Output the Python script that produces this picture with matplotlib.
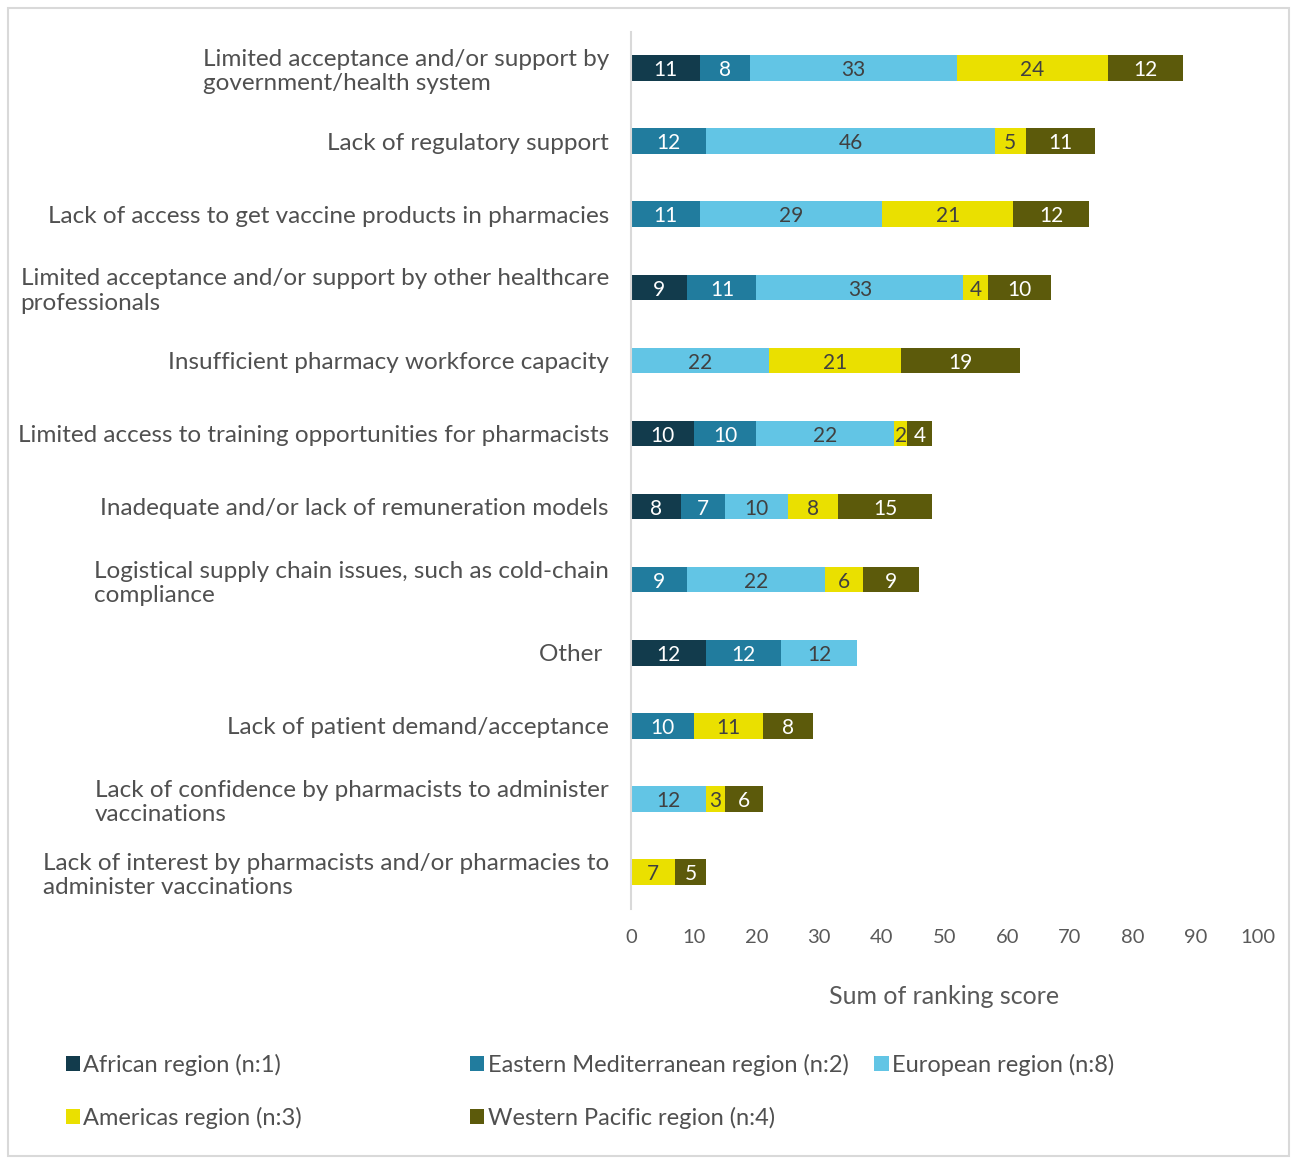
import numpy as np
import matplotlib
matplotlib.use('Agg')
import matplotlib.pyplot as plt
from matplotlib.patches import Rectangle

categories = [
    'Limited acceptance and/or support by\ngovernment/health system',
    'Lack of regulatory support',
    'Lack of access to get vaccine products in pharmacies',
    'Limited acceptance and/or support by other healthcare\nprofessionals',
    'Insufficient pharmacy workforce capacity',
    'Limited access to training opportunities for pharmacists',
    'Inadequate and/or lack of remuneration models',
    'Logistical supply chain issues, such as cold-chain\ncompliance',
    'Other ',
    'Lack of patient demand/acceptance',
    'Lack of confidence by pharmacists to administer\nvaccinations',
    'Lack of interest by pharmacists and/or pharmacies to\nadminister vaccinations',
]
african = [11, 0, 0, 9, 0, 10, 8, 0, 12, 0, 0, 0]
eastern_med = [8, 12, 11, 11, 0, 10, 7, 9, 12, 10, 0, 0]
european = [33, 46, 29, 33, 22, 22, 10, 22, 12, 0, 12, 0]
americas = [24, 5, 21, 4, 21, 2, 8, 6, 0, 11, 3, 7]
western_pac = [12, 11, 12, 10, 19, 4, 15, 9, 0, 8, 6, 5]

series = [
    ('African region (n:1)', african, '#123B4C', 'white'),
    ('Eastern Mediterranean region (n:2)', eastern_med, '#217C9E', 'white'),
    ('European region (n:8)', european, '#62C5E5', '#404040'),
    ('Americas region (n:3)', americas, '#EAE000', '#404040'),
    ('Western Pacific region (n:4)', western_pac, '#5C5A0B', 'white'),
]

plt.rcParams['font.family'] = ['Lato', 'DejaVu Sans']
txt = '#505050'

fig = plt.figure(figsize=(12.92, 11.59), dpi=100, facecolor='white')
ax = fig.add_axes([0.4884, 0.2161, 0.4853, 0.7567])

y = np.arange(len(categories))
left = np.zeros(len(categories))
handles = {}
for name, vals, col, tcol in series:
    vals = np.array(vals, dtype=float)
    bars = ax.barh(y, vals, left=left, height=0.35, color=col, label=name)
    handles[name] = bars
    for yi, (l, v) in enumerate(zip(left, vals)):
        if v > 0:
            ax.text(l + v / 2, yi + 0.03, f'{int(v)}', ha='center', va='center',
                    color=tcol, fontsize=15)
    left += vals

ax.set_ylim(len(categories) - 0.5, -0.5)
ax.set_xlim(0, 100)
ax.set_xticks(range(0, 101, 10))
ax.set_yticks(y)
ax.set_yticklabels(categories, fontsize=17.5, color=txt)
for lab in ax.get_yticklabels():
    lab.set_multialignment('left')
ax.tick_params(axis='y', length=0, pad=16)
ax.tick_params(axis='x', length=0, pad=15, labelsize=14.5, labelcolor='#595959')
for s in ['top', 'right', 'bottom']:
    ax.spines[s].set_visible(False)
ax.spines['left'].set_color('#D9D9D9')
ax.spines['left'].set_linewidth(1.5)
ax.set_xlabel('Sum of ranking score', fontsize=18, color='#595959', labelpad=28)

# legend laid out in fixed-width columns, like the original
columns = [
    (0.038, ['African region (n:1)', 'Americas region (n:3)']),
    (0.351, ['Eastern Mediterranean region (n:2)', 'Western Pacific region (n:4)']),
    (0.664, ['European region (n:8)']),
]
for x0, names in columns:
    fig.legend([handles[n] for n in names], names, loc='upper left',
               bbox_to_anchor=(x0, 0.105), ncol=1, frameon=False, fontsize=17,
               labelcolor=txt, handlelength=0.6, handleheight=0.6, handletextpad=0.15,
               labelspacing=1.3, borderaxespad=0.3)

fig.patches.append(Rectangle((0.006, 0.003), 0.9915, 0.99, transform=fig.transFigure,
                             fill=False, edgecolor='#D9D9D9', linewidth=1.5))

plt.savefig('out.png', dpi=100, facecolor='white')
